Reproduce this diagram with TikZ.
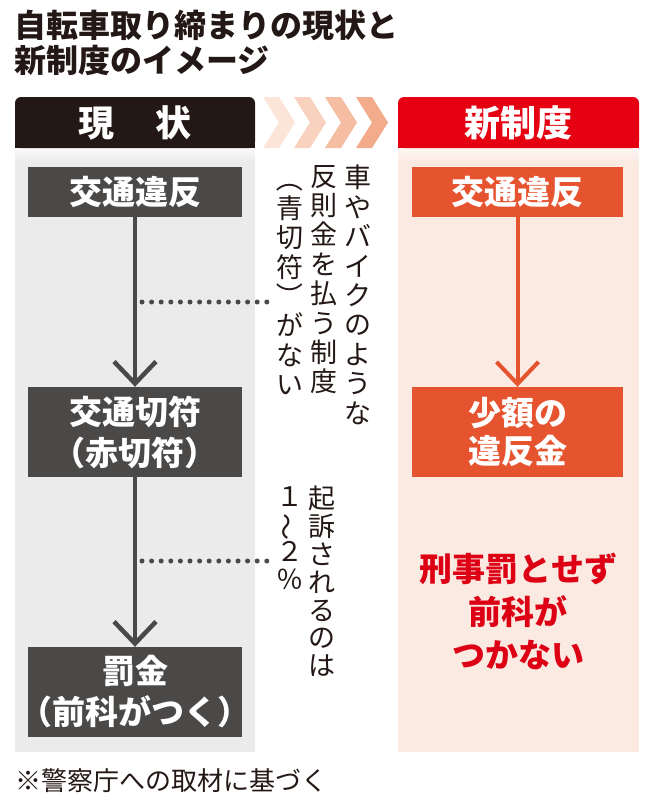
\documentclass[tikz,border=0pt]{standalone}
\usepackage{fontspec}
\newfontfamily\jp{Noto Sans CJK JP}
\newfontfamily\jph{Noto Sans CJK JP}[RawFeature=+halt]
\usetikzlibrary{arrows.meta}
\definecolor{hdblack}{HTML}{231815}
\definecolor{hdred}{HTML}{E50012}
\definecolor{panelgrey}{HTML}{EBEBEB}
\definecolor{panelpink}{HTML}{FBEAE2}
\definecolor{boxgrey}{HTML}{4B4948}
\definecolor{boxorange}{HTML}{E6532F}
\definecolor{redtext}{HTML}{DD0014}
\definecolor{chevA}{HTML}{FCE4D9}
\definecolor{chevB}{HTML}{F9D2BF}
\definecolor{chevC}{HTML}{F5BEA3}
\definecolor{chevD}{HTML}{F2AC8B}
\newcommand{\vparen}[1]{\rotatebox[origin=c]{-90}{#1}}
\begin{document}
\begin{tikzpicture}[x=1pt,y=-1pt,
  hdr/.style={rounded corners=6pt, text=white, inner sep=0pt,
    minimum width=240pt, minimum height=51pt,
    font=\jp\bfseries\fontsize{36}{40}\selectfont},
  gbox/.style={fill=boxgrey, text=white, inner sep=0pt, align=center,
    minimum width=214pt, font=\jp\bfseries\fontsize{33}{41}\selectfont},
  obox/.style={fill=boxorange, text=white, inner sep=0pt, align=center,
    minimum width=211pt, font=\jp\bfseries\fontsize{33}{38}\selectfont},
  garrow/.style={draw=boxgrey, line width=4.5pt,
    -{Straight Barb[length=22pt, width=42pt]}},
  oarrow/.style={draw=boxorange, line width=4pt,
    -{Straight Barb[length=22pt, width=42pt]}},
  dotline/.style={draw=boxgrey, line width=5pt, line cap=round,
    dash pattern=on 0pt off 9.6pt},
  vtup/.style={anchor=north, inner sep=0pt, align=center, text=hdblack,
    font=\jp\fontsize{27}{29.4}\selectfont},
  vtlo/.style={anchor=north, inner sep=0pt, align=center, text=hdblack,
    font=\jp\fontsize{27}{27.8}\selectfont}
]
\useasboundingbox (0,0) rectangle (652,800);
\fill[white] (0,0) rectangle (652,800);

% title
\node[anchor=north west, align=left, inner sep=0pt, text=hdblack,
  font=\jp\bfseries\fontsize{32}{35}\selectfont] (title) at (14,10)
  {自転車取り締まりの現状と\\新制度のイメージ};

% panels
\fill[panelgrey] (15,148) rectangle (255,752);
\fill[panelpink] (398,148) rectangle (639,752);
\shade[top color=white!70!panelgrey, bottom color=panelgrey] (15,148) rectangle (255,162);
\shade[top color=white!60!panelpink, bottom color=panelpink] (398,148) rectangle (639,162);

% headers
\fill[hdblack] (15,125) rectangle (255,148);
\node[hdr, fill=hdblack] (hl) at (135,122.5) {現\hspace{41pt}状};
\fill[hdred] (398,125) rectangle (639,148);
\node[hdr, fill=hdred, minimum width=241pt] (hr) at (518.5,122.5) {新制度};

% chevrons
\foreach \i/\c in {0/chevA,1/chevB,2/chevC,3/chevD}{
  \fill[\c] ({263+31*\i},97) -- ++(16,0) -- ++(16,25.5) -- ++(-16,25.5)
    -- ++(-16,0) -- ++(16,-25.5) -- cycle;
}

% left flow
\node[gbox, minimum height=50pt] (g1) at (135,192) {交通違反};
\node[gbox, minimum height=90pt] (g2) at (135,432) {交通切符\\{\jph （}赤切符{\jph ）}};
\node[gbox, minimum height=90pt] (g3) at (135,692) {罰金\\{\jph （}前科がつく{\jph ）}};
\draw[garrow] (g1) -- (g2);
\draw[garrow] (g2) -- (g3);

% dotted leaders
\coordinate (d1a) at (142,302);
\coordinate (d1b) at (272,302);
\coordinate (d2a) at (142,561);
\coordinate (d2b) at (272,561);
\draw[dotline] (d1a) -- (d1b);
\draw[dotline] (d2a) -- (d2b);

% vertical notes
\node[vtup] (v1) at (358,165) {車\\や\\バ\\イ\\ク\\の\\よ\\う\\な};
\node[vtup] (v2) at (324,165) {反\\則\\金\\を\\払\\う\\制\\度};
\node[vtup] (v3) at (290,165) {\vparen{（}\\青\\切\\符\\\vparen{）}\\が\\な\\い};
\node[vtlo] (v4) at (322,486) {起\\訴\\さ\\れ\\る\\の\\は};
\node[vtlo] (v5) at (290,486) {１\\\rotatebox[origin=c]{90}{〜}\\２\\％};

% right flow
\node[obox, minimum height=50pt] (o1) at (517.5,192) {交通違反};
\node[obox, minimum height=90pt] (o2) at (517.5,432) {少額の\\違反金};
\draw[oarrow] (o1) -- (o2);

\node[align=center, inner sep=0pt, text=redtext,
  font=\jp\bfseries\fontsize{33}{43}\selectfont] (rt) at (518,611)
  {刑事罰とせず\\前科が\\つかない};

% footnote
\node[anchor=west, inner sep=0pt, text=hdblack,
  font=\jp\fontsize{26}{30}\selectfont] (fn) at (15,781)
  {※警察庁への取材に基づく};
\end{tikzpicture}
\end{document}
